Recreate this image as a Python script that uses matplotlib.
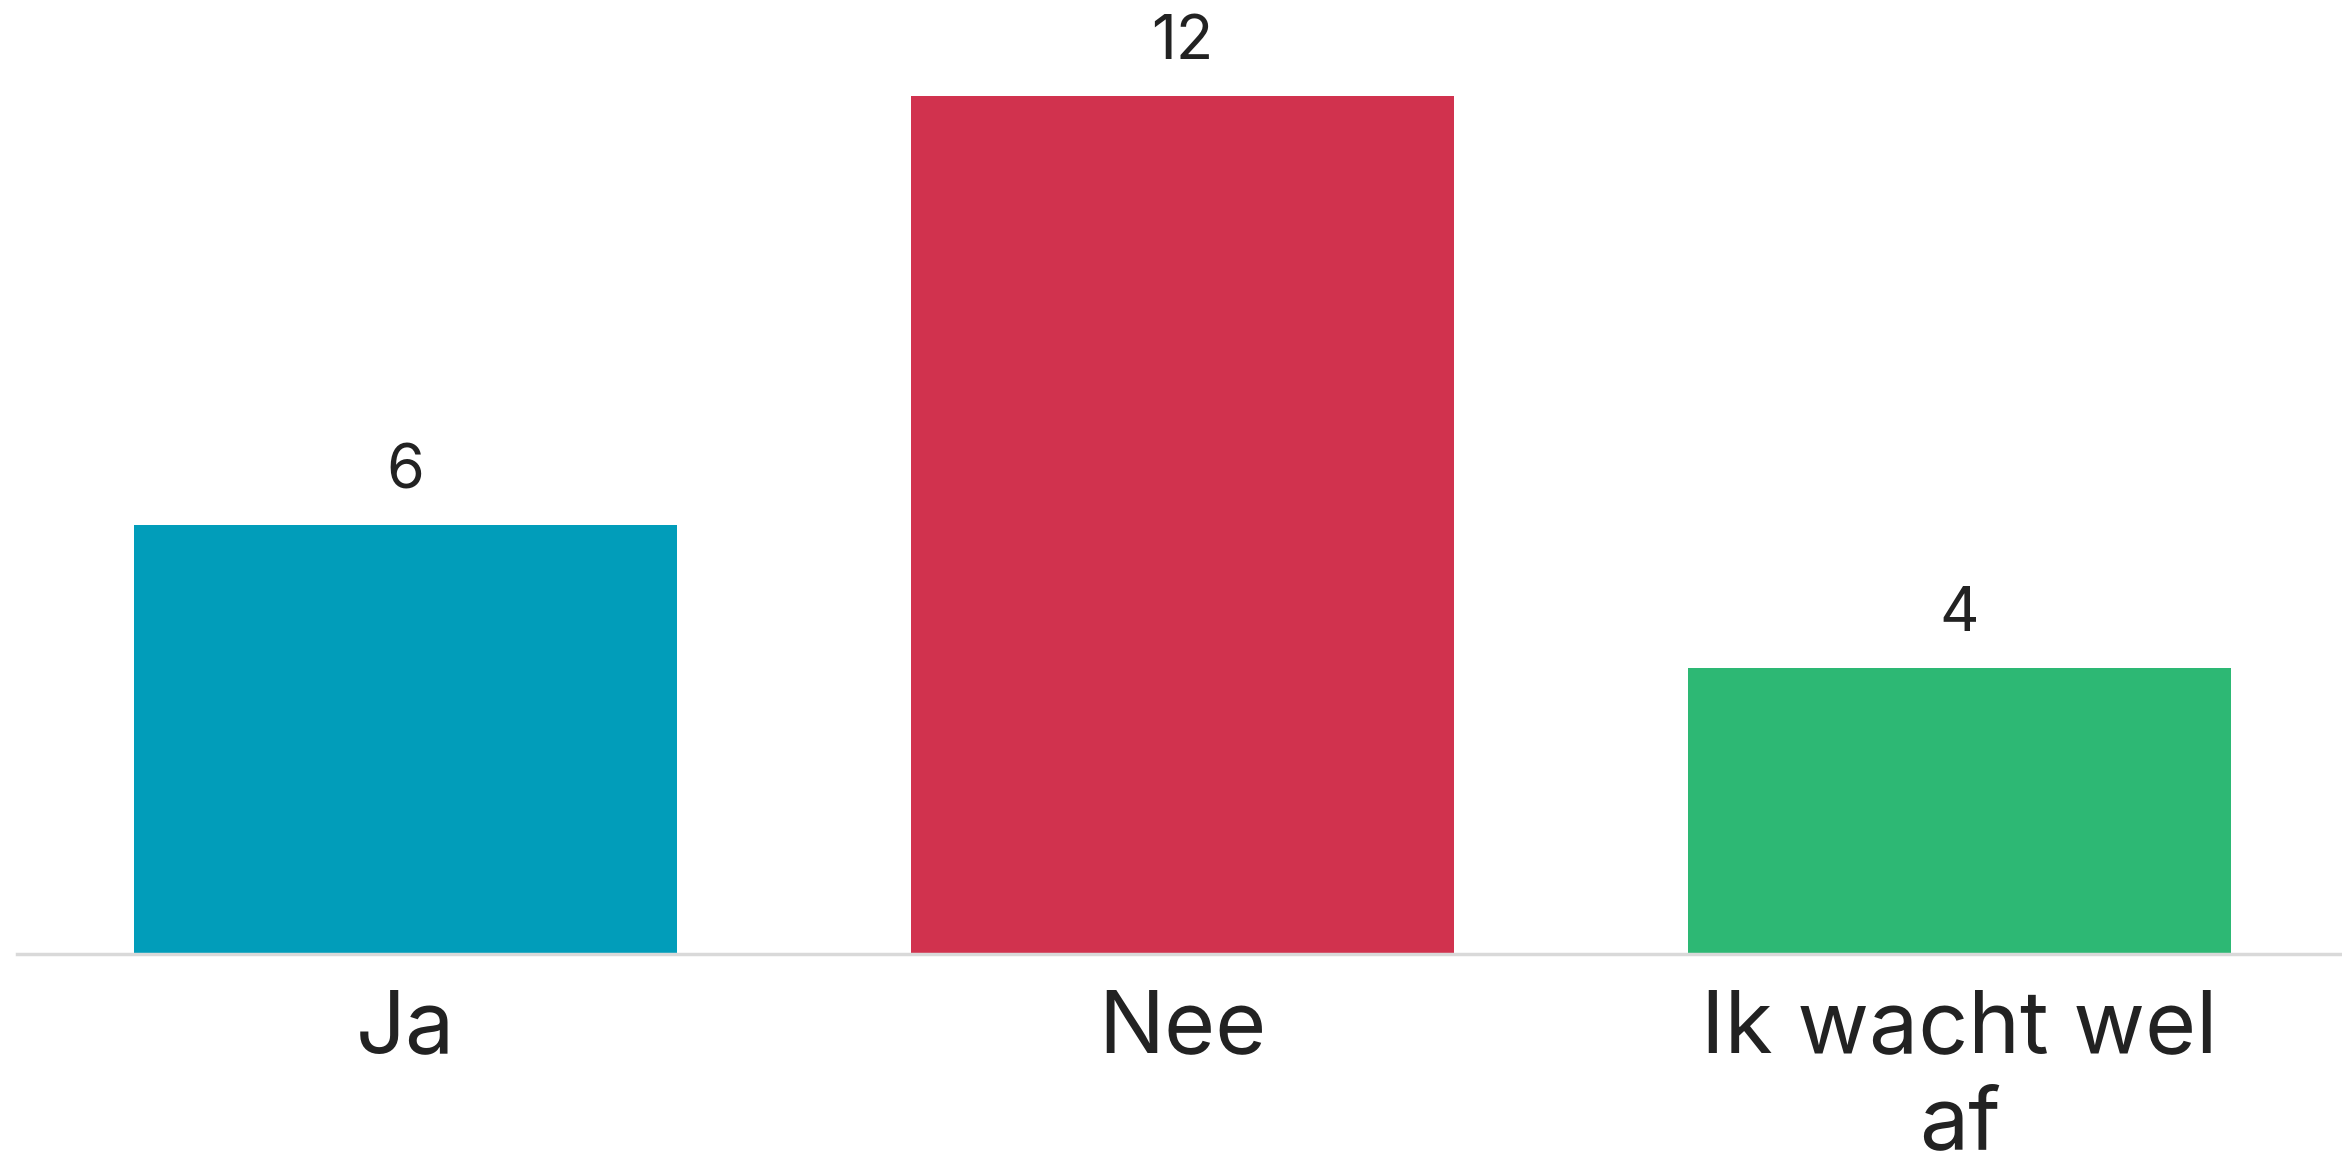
import matplotlib
matplotlib.use("Agg")
import matplotlib.pyplot as plt

# answers and counts
answers = ["Ja", "Nee", "Ik wacht wel\naf"]
counts = [6, 12, 4]
colors = ["#019DBA", "#D1324E", "#2DB874"]

plt.rcParams['font.family'] = ['Inter', 'DejaVu Sans']

fig = plt.figure(figsize=(23.42, 11.69), dpi=100)
fig.patch.set_facecolor("white")
ax = fig.add_axes([17 / 2342, 1 - 954 / 1169, 3 * 777 / 2342, 858 / 1169])

x = range(len(answers))
bars = ax.bar(x, counts, width=0.7, color=colors, zorder=2)

# value above each bar
for b, v in zip(bars, counts):
    ax.annotate(str(v), (b.get_x() + b.get_width() / 2, v),
                xytext=(0, 17), textcoords="offset points",
                ha="center", va="bottom", fontsize=44, color="#222222",
                annotation_clip=False)

ax.set_xlim(-0.5, 2.5)
ax.set_ylim(0, 12)
ax.set_xticks(list(x))
ax.set_xticklabels(answers, fontsize=63, color="#222222", linespacing=1.25)
ax.tick_params(axis="x", length=0, pad=25)
ax.set_yticks([])

for s in ["top", "right", "left"]:
    ax.spines[s].set_visible(False)
ax.spines["bottom"].set_color("#D9D9D9")
ax.spines["bottom"].set_linewidth(2.5)
ax.set_facecolor("none")

fig.savefig("out.png", dpi=100, facecolor="white")
